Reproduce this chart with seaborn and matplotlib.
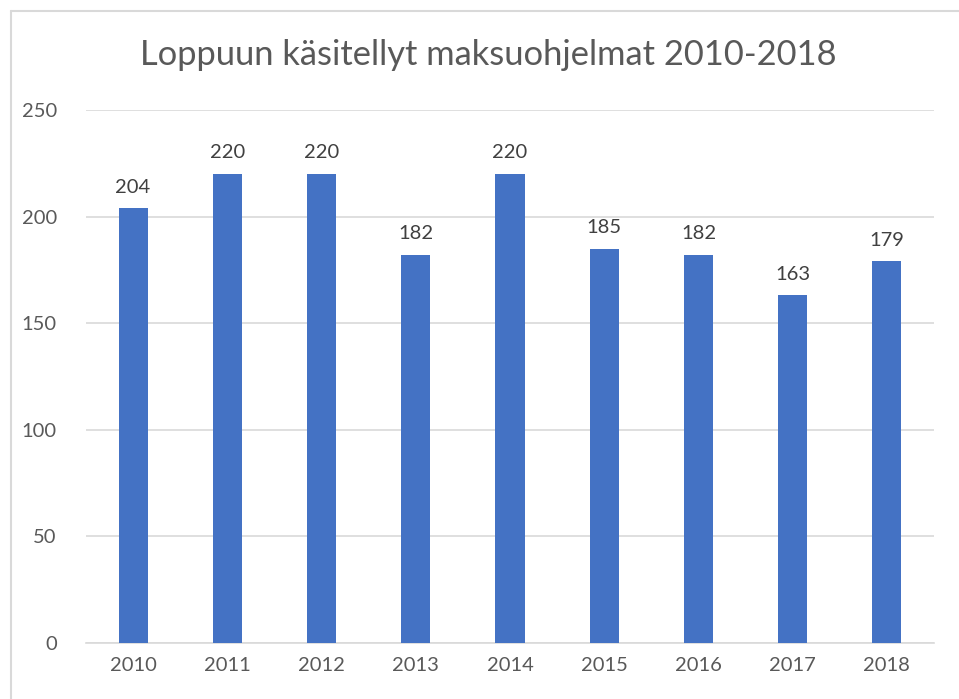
import matplotlib
matplotlib.use("Agg")
import matplotlib.pyplot as plt
from matplotlib.lines import Line2D
import pandas as pd
import seaborn as sns

years = ["2010", "2011", "2012", "2013", "2014", "2015", "2016", "2017", "2018"]
values = [204, 220, 220, 182, 220, 185, 182, 163, 179]
y_ticks = [0, 50, 100, 150, 200, 250]
title = "Loppuun käsitellyt maksuohjelmat 2010-2018"

df = pd.DataFrame({"year": years, "value": values})

sns.set_style("white")
plt.rcParams["font.family"] = ["Lato", "DejaVu Sans"]

W, H = 959, 699
fig = plt.figure(figsize=(W / 100, H / 100), dpi=100)
ax = fig.add_axes([86 / W, 1 - 643 / H, (934 - 86) / W, (643 - 110) / H])

sns.barplot(data=df, x="year", y="value", color="#4472C4", saturation=1,
            width=0.31, ax=ax, zorder=3, linewidth=0)

ax.set_ylim(0, 250)
ax.set_yticks(y_ticks)
ax.yaxis.grid(True, color="#D9D9D9", linewidth=1.2, zorder=0)
ax.set_axisbelow(True)
for s in ["top", "right", "left"]:
    ax.spines[s].set_visible(False)
ax.spines["bottom"].set_color("#D9D9D9")
ax.spines["bottom"].set_linewidth(1.2)
ax.tick_params(axis="both", length=0, labelsize=14.5, labelcolor="#595959")
ax.tick_params(axis="y", pad=21)
ax.tick_params(axis="x", pad=10)
ax.set_xlabel("")
ax.set_ylabel("")

for container in ax.containers:
    ax.bar_label(container, labels=[str(v) for v in values], padding=9,
                 fontsize=14.5, color="#404040")

fig.text(488 / W, 1 - 55 / H, title, ha="center", va="center",
         fontsize=24.8, color="#595959")

fig.add_artist(Line2D([11 / W, 11 / W], [0, 1 - 11 / H], color="#D9D9D9",
                      linewidth=1.5, transform=fig.transFigure))
fig.add_artist(Line2D([11 / W, 1], [1 - 11 / H, 1 - 11 / H], color="#D9D9D9",
                      linewidth=1.5, transform=fig.transFigure))

fig.savefig("out.png", dpi=100)
